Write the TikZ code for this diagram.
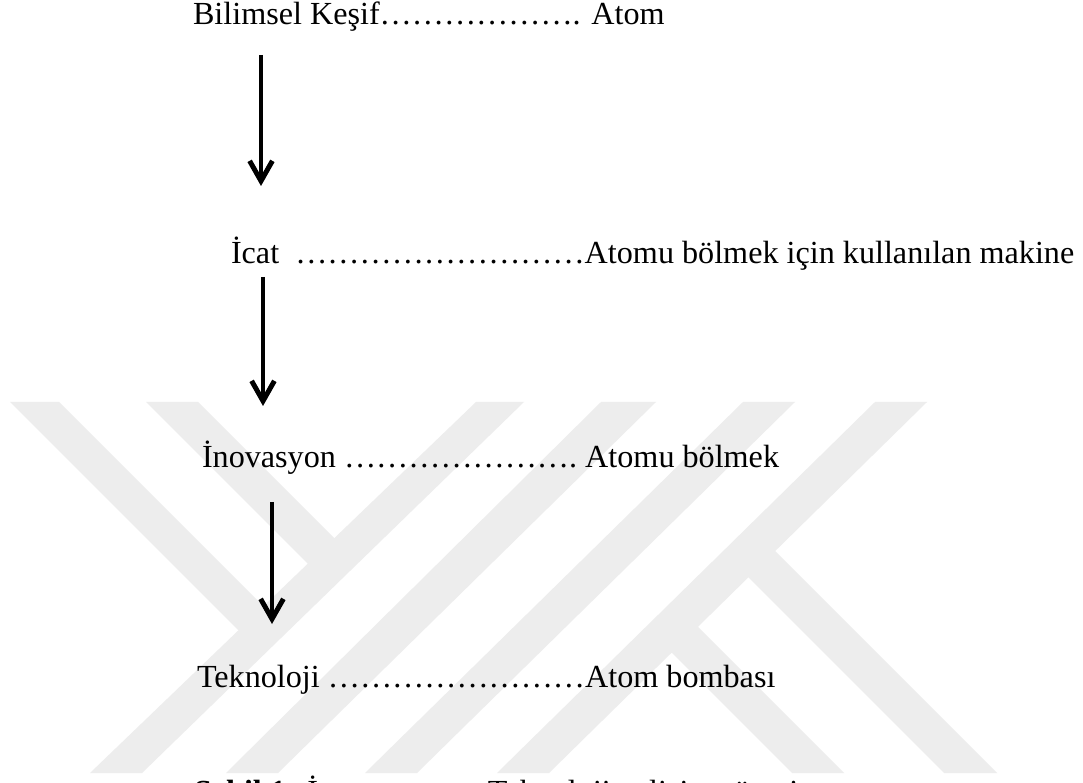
\documentclass[tikz,border=0pt]{standalone}
\usepackage{fontspec}
\setmainfont{Liberation Serif}
\usetikzlibrary{arrows.meta}
\definecolor{wmark}{RGB}{237,237,237}
\tikzset{
  txt/.style={anchor=base west, inner sep=0pt, outer sep=0pt, font=\fontsize{12pt}{14pt}\selectfont},
  flowarrow/.style={line width=1.85pt, -{Straight Barb[length=7.5pt,width=8.5pt]}},
  band/.style={fill=wmark, draw=none}
}
\begin{document}
\begin{tikzpicture}[x=0.37313pt, y=-0.37313pt]
\clip (0,0) rectangle (1083,783);
\fill[white] (0,0) rectangle (1083,783);
% watermark
\fill[band] (476,402) -- (524,402) -- (142,773) -- (90,773) -- cycle;
\fill[band] (601,402) -- (656,402) -- (278,773) -- (226,773) -- cycle;
\fill[band] (743,402) -- (795,402) -- (417,773) -- (365,773) -- cycle;
\fill[band] (875,402) -- (927,402) -- (549,773) -- (497,773) -- cycle;
\fill[band] (10,402) -- (59,402) -- (276.9,619.9) -- (252.1,644.1) -- cycle;
\fill[band] (146,402) -- (198,402) -- (347.2,551.2) -- (320.9,576.9) -- cycle;
\fill[band] (761.9,537.9) -- (997,773) -- (944,773) -- (735.1,564.1) -- cycle;
\fill[band] (684.5,613.5) -- (844,773) -- (792,773) -- (658.2,639.2) -- cycle;
% texts
\node[txt] (kesif) at (193,25) {Bilimsel Keşif………………. Atom};
\node[txt] (icat) at (231,264) {İcat~~………………………Atomu bölmek için kullanılan makine};
\node[txt] (inov) at (202,468) {İnovasyon ………………….\ Atomu bölmek};
\node[txt] (tekno) at (197,687) {Teknoloji ……………………Atom bombası};
\node[txt] (caption) at (194,802) {\textbf{Şekil 1:} İnovasyon ve Teknoloji gelişim süreci};
% arrows
\coordinate (a1s) at (261,55);
\coordinate (a1e) at (261,186);
\coordinate (a2s) at (263,277);
\coordinate (a2e) at (263,406);
\coordinate (a3s) at (272,502);
\coordinate (a3e) at (272,624);
\draw[flowarrow] (a1s) -- (a1e);
\draw[flowarrow] (a2s) -- (a2e);
\draw[flowarrow] (a3s) -- (a3e);
\end{tikzpicture}
\end{document}
